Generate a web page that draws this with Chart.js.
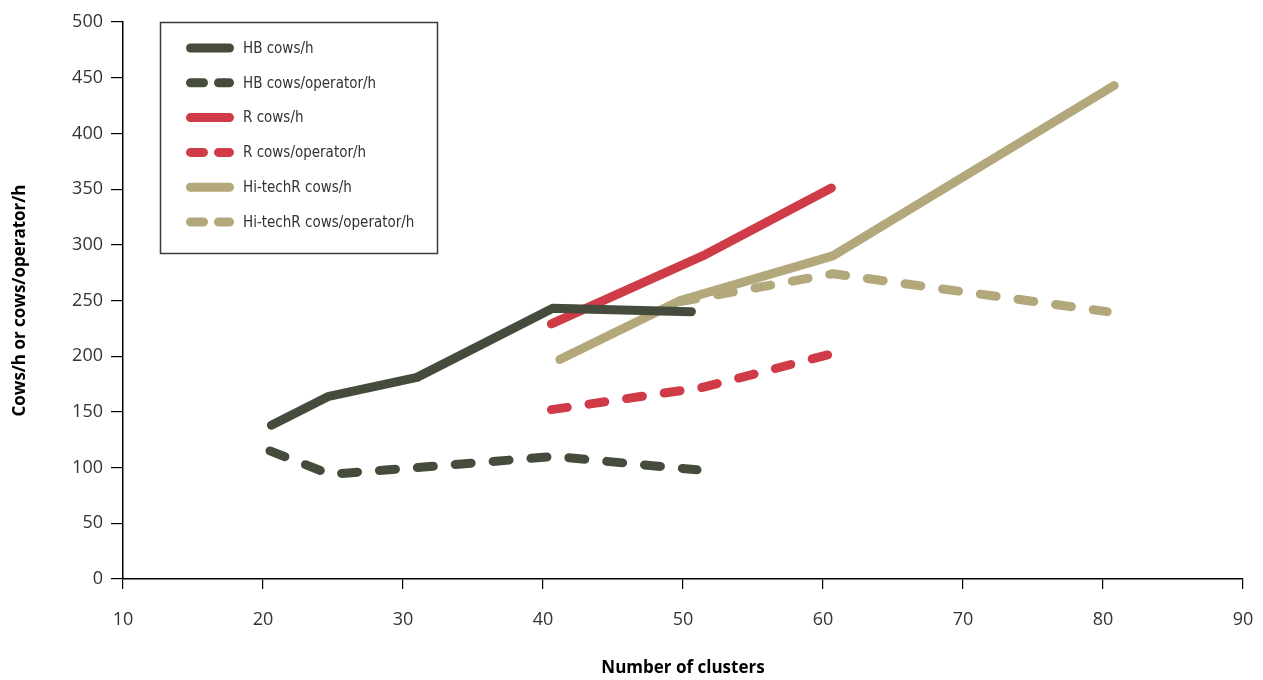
<!DOCTYPE html>
<html>
<head>
<meta charset="utf-8">
<script src="https://cdn.jsdelivr.net/npm/chart.js@4.4.1/dist/chart.umd.min.js"></script>
<style>
  html, body { margin: 0; padding: 0; background: #ffffff; }
  #wrap { width: 1263px; height: 680px; position: relative; }
</style>
</head>
<body>
<div id="wrap"><canvas id="c" width="1263" height="680"></canvas></div>
<script>
// ---- data ----
const seriesNames = ["HB cows/h", "HB cows/operator/h", "R cows/h", "R cows/operator/h", "Hi-techR cows/h", "Hi-techR cows/operator/h"];

const hbX = [20.6, 24.7, 31.0, 40.7, 50.6];
const hbCowsH = [138, 164, 181, 243, 240];

const hbOpX = [20.5, 24.8, 31.0, 40.8, 51.0];
const hbCowsOpH = [115, 94, 100, 110, 98];

const rX = [40.6, 51.4, 60.6];
const rCowsH = [229, 290, 351];
const rCowsOpH = [152, 172, 202];

const hiX = [41.2, 49.8, 60.7, 80.8];
const hiCowsH = [197, 250, 290, 443];

const hiOpX = [49.8, 60.7, 80.3];
const hiCowsOpH = [249, 274, 240];

const xTicks = [10, 20, 30, 40, 50, 60, 70, 80, 90];
const yTicks = [0, 50, 100, 150, 200, 250, 300, 350, 400, 450, 500];

// ---- styles ----
const cHB = '#454c3c', cR = '#cf3b46', cHi = '#b2a87b';
const DASH = [16, 22];

function pts(xs, ys) { return xs.map((x, i) => ({ x: x, y: ys[i] })); }

function ds(label, xs, ys, color, dashed) {
  return {
    label: label,
    data: pts(xs, ys),
    borderColor: color,
    backgroundColor: color,
    borderWidth: 9,
    borderDash: dashed ? DASH : [],
    borderCapStyle: 'round',
    borderJoinStyle: 'round',
    pointRadius: 0,
    pointHoverRadius: 0,
    tension: 0,
    fill: false,
    _dashed: dashed
  };
}

const datasets = [
  ds(seriesNames[0], hbX, hbCowsH, cHB, false),
  ds(seriesNames[1], hbOpX, hbCowsOpH, cHB, true),
  ds(seriesNames[2], rX, rCowsH, cR, false),
  ds(seriesNames[3], rX, rCowsOpH, cR, true),
  ds(seriesNames[4], hiX, hiCowsH, cHi, false),
  ds(seriesNames[5], hiOpX, hiCowsOpH, cHi, true)
];

const boxLegend = {
  id: 'boxLegend',
  afterDraw(chart) {
    const ctx = chart.ctx;
    ctx.save();
    ctx.setLineDash([]);
    ctx.lineWidth = 1.5;
    ctx.strokeStyle = '#3a3a3a';
    ctx.strokeRect(160.5, 22.5, 277, 231);
    chart.data.datasets.forEach((d, i) => {
      const y = 48 + i * 34.8;
      ctx.beginPath();
      ctx.lineWidth = 9;
      ctx.lineCap = 'round';
      ctx.strokeStyle = d.borderColor;
      ctx.setLineDash(d._dashed ? [13, 15] : []);
      ctx.moveTo(190.5, y);
      ctx.lineTo(229.5, y);
      ctx.stroke();
      ctx.setLineDash([]);
      ctx.fillStyle = '#333';
      ctx.font = '15px "Liberation Sans Narrow", "Arial Narrow", "DejaVu Sans Condensed", sans-serif';
      ctx.textBaseline = 'middle';
      ctx.textAlign = 'left';
      ctx.fillText(d.label, 243, y + 1);
    });
    ctx.restore();
  }
};

new Chart(document.getElementById('c'), {
  type: 'line',
  data: { datasets: datasets },
  options: {
    responsive: false,
    animation: false,
    events: [],
    layout: { padding: { left: 0, right: 20, top: 22, bottom: 0 } },
    plugins: { legend: { display: false }, tooltip: { enabled: false } },
    scales: {
      x: {
        type: 'linear',
        min: 10, max: 90,
        afterFit(s) { s.height = 101; s.paddingLeft = 0; s.paddingRight = 0; },
        afterBuildTicks(s) { s.ticks = xTicks.map(v => ({ value: v })); },
        border: { display: true, color: '#000', width: 1.5 },
        grid: { display: true, drawOnChartArea: false, drawTicks: true, tickLength: 10, color: '#000', lineWidth: 1.2 },
        ticks: {
          color: '#333',
          padding: 20,
          maxRotation: 0,
          autoSkip: false,
          font: { family: '"Open Sans", sans-serif', size: 18 }
        },
        title: {
          display: true,
          text: 'Number of clusters',
          color: '#000',
          padding: { top: 0, bottom: 2 },
          font: { family: '"Open Sans", sans-serif', size: 17, weight: 'bold' }
        }
      },
      y: {
        type: 'linear',
        min: 0, max: 500,
        afterFit(s) { s.width = 123; s.paddingTop = 0; s.paddingBottom = 0; },
        afterBuildTicks(s) { s.ticks = yTicks.map(v => ({ value: v })); },
        border: { display: true, color: '#000', width: 1.5 },
        grid: { display: true, drawOnChartArea: false, drawTicks: true, tickLength: 12, color: '#000', lineWidth: 1.2 },
        ticks: {
          color: '#333',
          padding: 8,
          autoSkip: false,
          font: { family: '"Open Sans", sans-serif', size: 18 }
        },
        title: {
          display: true,
          text: 'Cows/h or cows/operator/h',
          color: '#000',
          padding: { top: 10, bottom: 0 },
          font: { family: '"Open Sans", sans-serif', size: 17, weight: 'bold' }
        }
      }
    }
  },
  plugins: [boxLegend]
});
</script>
</body>
</html>
